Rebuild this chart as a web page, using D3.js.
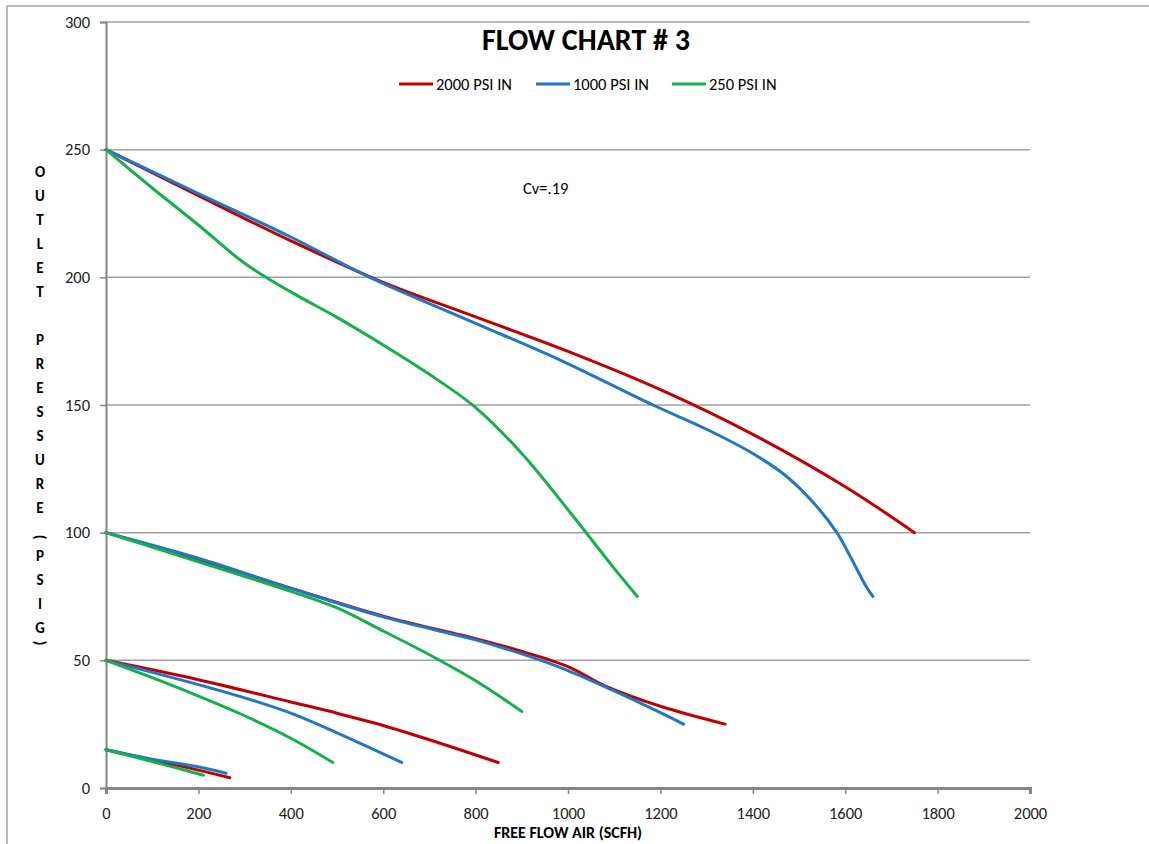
<!DOCTYPE html>
<html>
<head>
<meta charset="utf-8">
<script src="https://cdn.jsdelivr.net/npm/d3@7"></script>
<style>
  body { margin: 0; background: #fff; }
  svg { font-family: Carlito, Calibri, Lato, "Open Sans", sans-serif; }
</style>
</head>
<body>
<svg class="chart"></svg>
<script>
var width = 1149;
var height = 844;

// x = free flow air (SCFH), y = outlet pressure (PSIG)
var red250 = [[0,250],[200,232],[400,214.3],[600,198],[800,184.5],[1000,171],[1200,156],[1400,138.5],[1600,118],[1750,100]];
var red100 = [[0,100],[200,89.5],[400,78.3],[600,67.3],[800,58.5],[900,53.5],[1000,47.5],[1080,40],[1200,32],[1340,25]];
var red50  = [[0,50],[200,42.4],[400,33.7],[500,29.3],[600,24.5],[700,18.9],[849,10]];
var red15  = [[0,15],[100,11],[200,7],[268,4]];

var blue250 = [[0,250],[200,232.8],[400,215.8],[571,200],[800,182],[983,167.6],[1184,150],[1300,140.5],[1400,131],[1470,122.5],[1530,112],[1582,100],[1615,89.3],[1645,79],[1660,75]];
var blue100 = [[0,100],[200,90],[400,78.2],[600,67],[800,58],[900,52.5],[1000,46],[1100,38],[1200,29.5],[1250,25]];
var blue50  = [[0,50],[200,40.5],[300,35.3],[400,29.3],[500,21.6],[640,10]];
var blue15  = [[0,15],[100,11.3],[196,8.4],[260,5.8]];

var green250 = [[0,250],[100,235],[200,220.5],[300,205.5],[400,194.3],[500,184.3],[600,173.5],[700,162],[800,149],[900,131],[1000,109],[1100,86],[1150,75]];
var green100 = [[0,100],[200,88.6],[400,77],[500,70.5],[600,61.5],[700,52.2],[800,42],[900,30]];
var green50  = [[0,50],[100,43.2],[200,36],[300,28.3],[400,19.5],[491,10]];
var green15  = [[0,15],[100,10.4],[211,5]];

var seriesNames = ['2000 PSI IN', '1000 PSI IN', '250 PSI IN'];
var seriesColors = ['#c00000', '#1f77c8', '#14b04a'];
var seriesLines = [
  [red250, red100, red50, red15],
  [blue250, blue100, blue50, blue15],
  [green250, green100, green50, green15]
];

var xTicks = [0, 200, 400, 600, 800, 1000, 1200, 1400, 1600, 1800, 2000];
var yTicks = [0, 50, 100, 150, 200, 250, 300];
var yTitle = ['O','U','T','L','E','T','','P','R','E','S','S','U','R','E','(','P','S','I','G',')'];

var chart = d3.select('.chart')
  .attr('width', width)
  .attr('height', height);

var x = d3.scaleLinear().domain([0, 2000]).range([106, 1030]);
var y = d3.scaleLinear().domain([0, 300]).range([788, 22]);

// outer frame
chart.append('rect')
  .attr('x', 7).attr('y', 6)
  .attr('width', width).attr('height', height)
  .attr('fill', 'none')
  .attr('stroke', '#a6a6a6')
  .attr('stroke-width', 1.5);

// gridlines
chart.append('g')
  .selectAll('line')
  .data(yTicks.slice(1))
  .join('line')
    .attr('x1', x(0)).attr('x2', x(2000))
    .attr('y1', function(d){ return y(d); })
    .attr('y2', function(d){ return y(d); })
    .attr('stroke', '#a0a0a0')
    .attr('stroke-width', 1.5);

// axes
var yAxis = chart.append('g')
  .attr('transform', 'translate(' + x(0) + ',0)')
  .call(d3.axisLeft(y).tickValues(yTicks).tickFormat(d3.format('d')).tickSize(6).tickPadding(10));

var xAxis = chart.append('g')
  .attr('transform', 'translate(0,' + y(0) + ')')
  .call(d3.axisBottom(x).tickValues(xTicks).tickFormat(d3.format('d')).tickSize(6).tickPadding(13));

[yAxis, xAxis].forEach(function(ax){
  ax.select('.domain').attr('stroke', '#868686').attr('stroke-width', 2);
  ax.selectAll('.tick line').attr('stroke', '#868686').attr('stroke-width', 1.5);
  ax.selectAll('.tick text')
    .attr('fill', '#222')
    .style('font-size', '16.5px')
    .style('font-family', 'Carlito, Calibri, Lato, sans-serif');
});
xAxis.select('.domain').attr('stroke-width', 3);

// lines
var line = d3.line()
  .x(function(d){ return x(d[0]); })
  .y(function(d){ return y(d[1]); })
  .curve(d3.curveCatmullRom.alpha(0.5));

seriesLines.forEach(function(group, i){
  chart.append('g')
    .selectAll('path')
    .data(group)
    .join('path')
      .attr('d', line)
      .attr('fill', 'none')
      .attr('stroke', seriesColors[i])
      .attr('stroke-width', 3)
      .attr('stroke-linecap', 'round')
      .attr('stroke-linejoin', 'round');
});

// title
chart.append('text')
  .attr('x', 586).attr('y', 50)
  .attr('text-anchor', 'middle')
  .style('font-size', '30px')
  .style('font-weight', 'bold')
  .text('FLOW CHART # 3');

// legend
var legendX = [399, 536, 672];
var legend = chart.append('g')
  .selectAll('g')
  .data(seriesNames)
  .join('g')
    .attr('transform', function(d, i){ return 'translate(' + legendX[i] + ',84)'; });
legend.append('line')
  .attr('x1', 0).attr('x2', 34)
  .attr('stroke', function(d, i){ return seriesColors[i]; })
  .attr('stroke-width', 3);
legend.append('text')
  .attr('x', 37).attr('y', 5.5)
  .style('font-size', '16.5px')
  .text(function(d){ return d; });

chart.append('text')
  .attr('x', 523).attr('y', 194)
  .style('font-size', '16.5px')
  .text('Cv=.19');

// stacked y title
chart.append('g')
  .selectAll('text')
  .data(yTitle)
  .join('text')
    .attr('transform', function(d, i){
      var yy = 177 + i * 24;
      if (d == '(') return 'translate(40,' + yy + ') rotate(90)';
      if (d == ')') return 'translate(40,' + (yy - 14) + ') rotate(90)';
      return 'translate(40,' + yy + ')';
    })
    .attr('text-anchor', 'middle')
    .attr('dy', function(d){ return (d == '(' || d == ')') ? '0.35em' : 0; })
    .style('font-size', '15px')
    .style('font-weight', 'bold')
    .text(function(d){ return d; });

chart.append('text')
  .attr('x', 568).attr('y', 838)
  .attr('text-anchor', 'middle')
  .style('font-size', '16px')
  .style('font-weight', 'bold')
  .text('FREE FLOW AIR (SCFH)');
</script>
</body>
</html>
